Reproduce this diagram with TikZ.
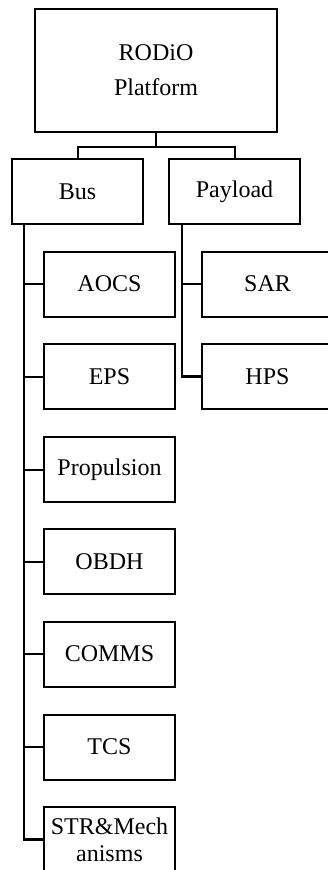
\documentclass[tikz,border=0pt]{standalone}
\usepackage{fontspec}
\setmainfont{Liberation Serif}
\begin{document}
\begin{tikzpicture}[x=1pt,y=-1pt,
  box/.style={draw=black,line width=2pt,minimum width=131pt,minimum height=65pt,inner sep=0pt,align=center,font=\fontsize{24}{27}\selectfont},
  topbox/.style={draw=black,line width=2pt,minimum width=242pt,minimum height=123pt,inner sep=0pt,align=center,font=\fontsize{24}{35}\selectfont},
  link/.style={draw=black,line width=2pt},
  trunk/.style={draw=black,line width=2.6pt},
  ptrunk/.style={draw=black,line width=2.2pt}]
\useasboundingbox (0,0) rectangle (328,870);
\clip (0,0) rectangle (328,870);
\node[topbox] (root) at (156,70.5) {RODiO\\Platform};
\node[box] (bus) at (77.5,191.5) {Bus};
\node[box] (pay) at (234.5,191.5) {Payload};
\node[box] (aocs) at (109.5,284) {AOCS};
\node[box] (eps) at (109.5,376.5) {EPS};
\node[box] (prop) at (109.5,469.5) {Propulsion};
\node[box] (obdh) at (109.5,561.5) {OBDH};
\node[box] (comms) at (109.5,654) {COMMS};
\node[box] (tcs) at (109.5,747) {TCS};
\node[box] (str) at (109.5,839.5) {STR\&Mech\\anisms};
\node[box] (sar) at (267.5,284) {SAR};
\node[box] (hps) at (267.5,376.5) {HPS};
% root to bus / payload
\coordinate (j) at ([yshift=-14pt]root.south);
\draw[link] (root.south) -- (j);
\draw[link] (bus.north) |- (j) -| (pay.north);
% bus trunk
\coordinate (bt) at ([xshift=13pt]bus.south west);
\draw[trunk] (bt) |- (str.west);
\foreach \n in {aocs,eps,prop,obdh,comms,tcs}
  \draw[link] (bt |- \n.west) -- (\n.west);
% payload trunk
\coordinate (pt) at ([xshift=14pt]pay.south west);
\draw[ptrunk] (pt) |- (hps.west);
\draw[link] (pt |- sar.west) -- (sar.west);
\end{tikzpicture}
\end{document}
